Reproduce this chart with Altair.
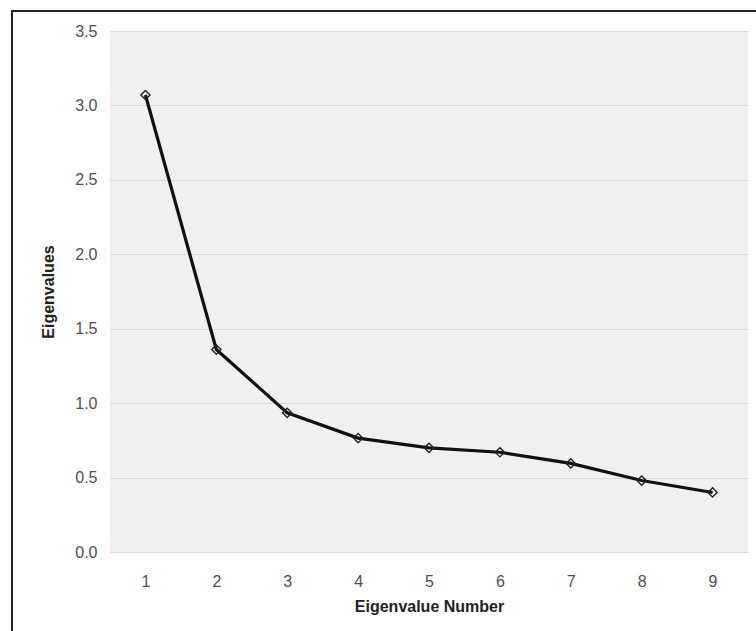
import altair as alt
import pandas as pd

numbers = [1, 2, 3, 4, 5, 6, 7, 8, 9]
eigenvalues = [3.07, 1.36, 0.935, 0.765, 0.70, 0.67, 0.595, 0.48, 0.40]
y_ticks = [0.0, 0.5, 1.0, 1.5, 2.0, 2.5, 3.0, 3.5]

df = pd.DataFrame({"n": numbers, "ev": eigenvalues})

x = alt.X("n:Q", scale=alt.Scale(domain=[0.5, 9.5], nice=False, zero=False),
          axis=alt.Axis(title="Eigenvalue Number", values=numbers, format="d",
                        grid=False, domain=False, ticks=False, labelPadding=21,
                        labelFontSize=16, labelColor="#505050", labelFont="Liberation Sans",
                        titleFont="Liberation Sans", titleFontSize=16, titleFontWeight="bold",
                        titleColor="#222222", titlePadding=9))
y = alt.Y("ev:Q", scale=alt.Scale(domain=[0, 3.5], nice=False),
          axis=alt.Axis(title="Eigenvalues", values=y_ticks, format=".1f",
                        grid=True, gridColor="#dadada", gridWidth=1,
                        domain=False, ticks=False, labelPadding=13,
                        labelFontSize=16, labelColor="#505050", labelFont="Liberation Sans",
                        titleFont="Liberation Sans", titleFontSize=16, titleFontWeight="bold",
                        titleColor="#222222", titlePadding=18))

line = alt.Chart(df).mark_line(color="#111111", strokeWidth=3.2).encode(x=x, y=y)
pts = alt.Chart(df).mark_point(shape="diamond", filled=False, stroke="#222222",
                               strokeWidth=1.4, size=85, opacity=1).encode(x=x, y=y)
frame = alt.Chart(df).mark_rect(fill=None, stroke="#222222", strokeWidth=2, clip=False).encode(
    x=alt.value(-98), x2=alt.value(700), y=alt.value(-20), y2=alt.value(700))

chart = alt.layer(line, pts, frame).properties(
    width=638, height=521,
    padding={"left": 110, "top": 31, "right": 8, "bottom": 79},
    autosize=alt.AutoSizeParams(type="none"),
    background="white",
).configure_view(fill="#f0f0f0", stroke=None)

chart.save("out.html", embed_options={"renderer": "svg", "actions": False})
